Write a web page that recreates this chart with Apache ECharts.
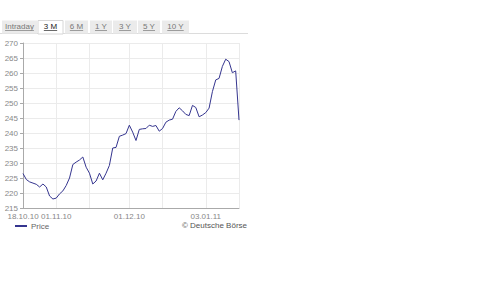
<!DOCTYPE html>
<html>
<head>
<meta charset="utf-8">
<script src="https://cdn.jsdelivr.net/npm/echarts@6/dist/echarts.min.js"></script>
<style>
html,body{margin:0;padding:0;background:#fff;}
#c{width:500px;height:281px;}
</style>
</head>
<body>
<div id="c"></div>
<script>
// ---- data ----
var dates = [
 '18.10.10','19.10.10','20.10.10','21.10.10','22.10.10','25.10.10','26.10.10','27.10.10','28.10.10','29.10.10',
 '01.11.10','02.11.10','03.11.10','04.11.10','05.11.10','08.11.10','09.11.10','10.11.10','11.11.10','12.11.10',
 '15.11.10','16.11.10','17.11.10','18.11.10','19.11.10','22.11.10','23.11.10','24.11.10','25.11.10','26.11.10',
 '29.11.10','30.11.10',
 '01.12.10','02.12.10','03.12.10','06.12.10','07.12.10','08.12.10','09.12.10','10.12.10','13.12.10','14.12.10',
 '15.12.10','16.12.10','17.12.10','20.12.10','21.12.10','22.12.10','23.12.10','24.12.10','27.12.10','28.12.10',
 '29.12.10','30.12.10','31.12.10',
 '03.01.11','04.01.11','05.01.11','06.01.11','07.01.11','10.01.11','11.01.11','12.01.11','13.01.11','14.01.11',
 '17.01.11'
];
var price = [
 226.5,224.5,223.7,223.3,222.9,222.0,223.0,222.0,219.0,218.0,
 218.3,219.7,220.7,222.5,225.0,229.5,230.3,231.0,232.0,228.6,
 226.6,223.0,224.0,226.6,224.4,226.6,229.2,235.0,235.2,238.9,
 239.3,239.8,
 242.6,240.3,237.5,241.2,241.4,241.5,242.6,242.2,242.5,240.6,
 241.5,243.6,244.3,244.6,247.2,248.4,247.4,246.2,245.8,249.2,
 248.5,245.4,246.0,
 246.8,248.3,253.8,257.7,258.2,262.2,264.6,263.8,260.1,260.7,
 244.3
];
var labelDates = ['18.10.10','01.11.10','01.12.10','03.01.11'];
var gridDates = ['01.11.10','15.11.10','01.12.10','15.12.10','03.01.11','17.01.11'];
var yTicks = {min:215, max:270, step:5};
var tabs = ['Intraday','3 M','6 M','1 Y','3 Y','5 Y','10 Y'];
var activeTab = '3 M';
var seriesName = 'Price';
var copyright = '\u00A9 Deutsche B\u00F6rse';

// ---- layout / style ----
var FONT = '"Liberation Sans", Arial, sans-serif';
var tabBoxes = [[2,37],[38,63],[65,88],[90,112],[113,137],[138,160],[162,189]];
var tabTop = 20.5, tabBottom = 33.5;

var mc = document.createElement('canvas').getContext('2d');
mc.font = '8px ' + FONT;

var graphics = [];
graphics.push({type:'line', shape:{x1:0,y1:tabBottom,x2:248,y2:tabBottom}, style:{stroke:'#dcdcdc',lineWidth:1}, z:1});
tabs.forEach(function(t,i){
  var b = tabBoxes[i];
  var active = t === activeTab;
  graphics.push({type:'rect', shape:{x:b[0], y:tabTop, width:b[1]-b[0], height:tabBottom-tabTop + (active?0.5:0)},
    style:{fill: active ? '#ffffff' : '#ebebeb', stroke: active ? '#d6d6d6' : null, lineWidth:1}, z:2});
  var cx = (b[0]+b[1])/2;
  var w = mc.measureText(t).width;
  graphics.push({type:'text', x:cx, y:26.7, style:{text:t, fill: active ? '#222' : '#777', font:'8px ' + FONT, align:'center', verticalAlign:'middle'}, z:3});
  graphics.push({type:'line', shape:{x1:cx-w/2, y1:30.5, x2:cx+w/2, y2:30.5}, style:{stroke: active ? '#444' : '#888', lineWidth:0.8}, z:3});
});
graphics.push({type:'text', right:253, top:221.5, style:{text:copyright, fill:'#555', font:'8px ' + FONT}, z:3});

var chart = echarts.init(document.getElementById('c'), null, {renderer:'svg'});
chart.setOption({
  animation:false,
  backgroundColor:'#fff',
  textStyle:{fontFamily:FONT},
  grid:{left:23, right:261, top:43, bottom:73},
  legend:{
    data:[seriesName], left:10, top:217, itemWidth:12, itemHeight:2, icon:'rect', itemGap:4,
    textStyle:{fontSize:8, color:'#666', fontFamily:FONT, padding:[0,0,0,-1]}
  },
  xAxis:{
    type:'category', data:dates, boundaryGap:false,
    axisLine:{lineStyle:{color:'#aaaaaa', width:1}},
    axisTick:{show:false},
    axisLabel:{
      fontSize:8, color:'#888', fontFamily:FONT, margin:4,
      interval:function(i,v){ return labelDates.indexOf(v) >= 0; }
    },
    splitLine:{show:true, lineStyle:{color:'#ebebeb', width:1},
      interval:function(i,v){ return gridDates.indexOf(v) >= 0; }}
  },
  yAxis:{
    type:'value', min:yTicks.min, max:yTicks.max, interval:yTicks.step,
    axisLine:{show:true, lineStyle:{color:'#aaaaaa', width:1}},
    axisTick:{show:true, length:3, lineStyle:{color:'#aaaaaa'}},
    axisLabel:{fontSize:8, color:'#888', fontFamily:FONT, margin:5, padding:[0,0,2,0]},
    splitLine:{show:true, lineStyle:{color:'#ebebeb', width:1}}
  },
  series:[{
    name:seriesName, type:'line', data:price, symbol:'none', showSymbol:false,
    lineStyle:{color:'#35358f', width:1}, itemStyle:{color:'#35358f'}
  }],
  graphic:graphics
});
</script>
</body>
</html>
